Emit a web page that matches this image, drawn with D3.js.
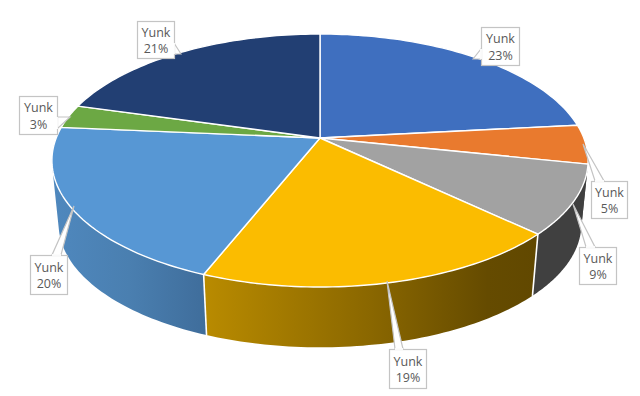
<!DOCTYPE html>
<html>
<head>
<meta charset="utf-8">
<script src="https://cdn.jsdelivr.net/npm/d3@7"></script>
<style>html,body{margin:0;padding:0;background:#fff}svg{display:block}</style>
</head>
<body>
<svg id="c" width="640" height="396"></svg>
<script>
const categories = ["Yunk","Yunk","Yunk","Yunk","Yunk","Yunk","Yunk"];
const values = [23.3, 5.0, 8.8, 18.9, 20.4, 3.0, 20.6];
const colors = ["#3F6FBF","#E97A2E","#A2A2A2","#FBBC00","#5797D4","#6CA844","#223F73"];
const sideStops = [
  [[0,"#3f3f3f"],[1,"#3f3f3f"]],
  [[0,"#404040"],[1,"#404040"]],
  [[0,"#404040"],[1,"#404040"]],
  [[0,"#b98b00"],[0.5,"#8a6700"],[0.85,"#654b00"],[1,"#614800"]],
  [[0,"#4f88be"],[0.5,"#4a7fb0"],[1,"#3f6d9b"]],
  [[0,"#4f88be"],[1,"#4f88be"]],
  [[0,"#264478"],[1,"#264478"]]
];
// callout layout: box [x,y,w,h], pointer [tipX,tipY,b1X,b1Y,b2X,b2Y]
const boxes = [[481,27,38,38],[591,181,36,37],[579,247,37,37],[389,349,37,39],[30,255,37,39],[19,96,38,38],[137,21,37,37]];
const tips = [[473,59,481,49,481,59],[583,144,595,181,604,181],[573,204,586,247,595,247],[387,281,395,349,403,349],[74,206,52,255,61,255],[70,117,57,117,57,129],[181,54,174,43,174,54]];

const svg = d3.select("#c");
const cx = 320, cy = 138, R = 263.8, S = 122.5, k = 0.178, scaleB = 0.975, yB = 202;

// perspective projection of the unit disc
const topPt = a => {
  const u = Math.sin(a), v = -Math.cos(a), w = 1 - k * v;
  return [cx + R * u / w, cy + S * v / w];
};
const botPt = a => {
  const p = topPt(a);
  return [cx + (p[0] - cx) * scaleB, yB + (p[1] - cy) * scaleB];
};
const arcs = d3.pie().sort(null).value(d => d)(values);
const line = d3.line();
const samples = (a0, a1) => d3.range(0, 61).map(i => a0 + (a1 - a0) * i / 60);

const defs = svg.append("defs");
// side walls, back to front; each wall is the union of consistently wound quads
const order = [1, 5, 2, 4, 3];
order.forEach(i => {
  const d = arcs[i], as = samples(d.startAngle, d.endAngle);
  const quads = d3.pairs(as).map(([a, b]) => {
    const q = [topPt(a), topPt(b), botPt(b), botPt(a)];
    return d3.polygonArea(q) < 0 ? q.reverse() : q;
  });
  const xs = quads.flat().map(p => p[0]);
  const g = defs.append("linearGradient").attr("id", "s" + i)
    .attr("gradientUnits", "userSpaceOnUse")
    .attr("x1", d3.min(xs)).attr("x2", d3.max(xs)).attr("y1", 0).attr("y2", 0);
  sideStops[i].forEach(s => g.append("stop").attr("offset", s[0]).attr("stop-color", s[1]));
  svg.append("path").attr("d", quads.map(q => line(q) + "Z").join("")).attr("fill", `url(#s${i})`);
});
// white edges between front walls
[arcs[2].endAngle, arcs[3].endAngle].forEach(a => {
  svg.append("path").attr("d", line([topPt(a), botPt(a)]))
    .attr("stroke", "#fff").attr("stroke-width", 1.6).attr("fill", "none");
});
// top faces
arcs.forEach((d, i) => {
  const pts = [[cx, cy]].concat(samples(d.startAngle, d.endAngle).map(topPt));
  svg.append("path").attr("d", line(pts) + "Z")
    .attr("fill", colors[i]).attr("stroke", "#fff").attr("stroke-width", 1.4)
    .attr("stroke-linejoin", "round");
});
// callouts
categories.forEach((c, i) => {
  const [x, y, w, h] = boxes[i], t = tips[i];
  const g = svg.append("g");
  g.append("path")
    .attr("d", line([[t[0], t[1]], [t[2], t[3]], [t[4], t[5]]]) + "Z")
    .attr("fill", "#fff").attr("stroke", "#c4c4c4").attr("stroke-width", 1.2);
  g.append("rect").attr("x", x + .5).attr("y", y + .5).attr("width", w).attr("height", h)
    .attr("fill", "#fff").attr("stroke", "#c4c4c4").attr("stroke-width", 1.2);
  // hide the box edge under the pointer base
  g.append("path")
    .attr("d", line([[t[2], t[3]], [t[4], t[5]]]))
    .attr("stroke", "#fff").attr("stroke-width", 1.8).attr("fill", "none");
  const tx = g.append("text").attr("text-anchor", "middle")
    .attr("font-family", "'Open Sans','Noto Sans',sans-serif").attr("font-size", 12.5).attr("fill", "#595959");
  tx.append("tspan").attr("x", x + w / 2 + .5).attr("y", y + h / 2 - 3).text(c);
  tx.append("tspan").attr("x", x + w / 2 + .5).attr("y", y + h / 2 + 13.5).text(Math.round(values[i]) + "%");
});
</script>
</body>
</html>
